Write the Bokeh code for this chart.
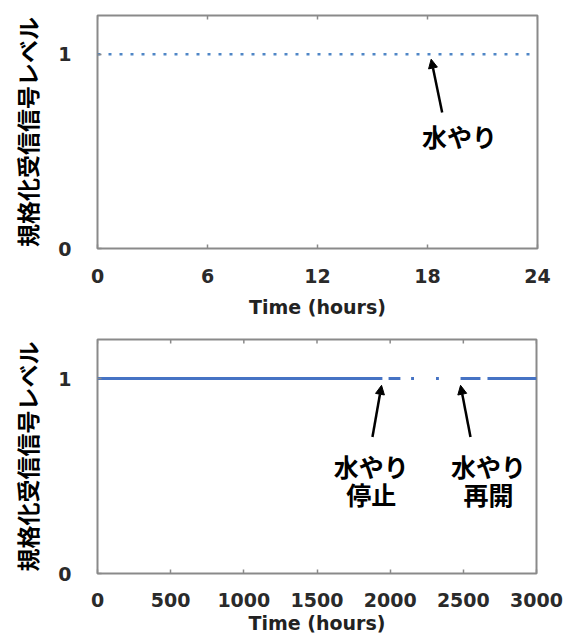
import math
from bokeh.plotting import figure
from bokeh.models import FixedTicker, Arrow, NormalHead, Range1d
from bokeh.layouts import column
from bokeh.core.properties import value
from bokeh.embed import file_html
from bokeh.resources import INLINE

nan = float("nan")

# ---------------- data ----------------
# top panel: 24 h watering test
day_ticks = [0, 6, 12, 18, 24]
day_t = [0, 24]
day_level = [1, 1]
day_water_t = [18.2]          # time of watering (h)
day_water_label = ["水やり"]

# bottom panel: long-term test (hours)
long_ticks = [0, 500, 1000, 1500, 2000, 2500, 3000]
long_t = [0, 1947, nan, 1989, 2070, nan, 2143, 2163, nan, 2313, 2333, nan,
          2481, 2617, nan, 2665, 3000]
long_level = [1, 1, nan, 1, 1, nan, 1, 1, nan, 1, 1, nan,
              1, 1, nan, 1, 1]
long_event_t = [1941, 2481]    # watering stopped / resumed (h)
long_event_line1 = ["水やり", "水やり"]
long_event_line2 = ["停止", "再開"]

level_ticks = [0, 1]
level_max = 1.2

Y_LABEL = "規格化受信信号レベル"
X_LABEL = "Time (hours)"
JP = "Noto Sans CJK JP"
NUM = "DejaVu Sans"
GRAY = "#8a8a8a"


def style(p, xticks, tick_standoff, label_standoff):
    p.grid.visible = False
    p.outline_line_color = GRAY
    p.outline_line_width = 2
    p.background_fill_color = "white"
    p.border_fill_color = "white"
    for ax in p.xaxis + p.yaxis:
        ax.axis_line_color = None
        ax.major_tick_line_color = GRAY
        ax.major_tick_line_width = 1.5
        ax.major_tick_in = 4
        ax.major_tick_out = 0
        ax.minor_tick_line_color = None
        ax.major_label_text_font = NUM
        ax.major_label_text_font_style = "bold"
        ax.major_label_text_font_size = "19px"
        ax.major_label_text_color = "#2a2a2a"
    p.xaxis.ticker = FixedTicker(ticks=xticks)
    p.yaxis.ticker = FixedTicker(ticks=level_ticks)
    p.xaxis.major_label_standoff = tick_standoff
    p.xaxis.axis_label = X_LABEL
    p.xaxis.axis_label_text_font = NUM
    p.xaxis.axis_label_text_font_style = "bold"
    p.xaxis.axis_label_text_font_size = "19px"
    p.xaxis.axis_label_text_color = "#222222"
    p.xaxis.axis_label_standoff = label_standoff
    p.yaxis.major_label_standoff = 26
    p.yaxis.axis_label = Y_LABEL
    p.yaxis.axis_label_text_font = JP
    p.yaxis.axis_label_text_font_style = "bold"
    p.yaxis.axis_label_text_font_size = "23px"
    p.yaxis.axis_label_text_color = "black"
    p.yaxis.axis_label_standoff = 11
    # inward ticks along the top edge of the box
    p.ray(x=xticks, y=[level_max] * len(xticks), length=4, length_units="screen",
          angle=-math.pi / 2, line_color=GRAY, line_width=1.5)


# ---------------- top figure ----------------
p1 = figure(frame_width=440, frame_height=233, min_border_left=96,
            min_border_right=30, min_border_top=15, min_border_bottom=72,
            x_range=Range1d(0, 24), y_range=Range1d(0, level_max),
            output_backend="svg", toolbar_location=None)
style(p1, day_ticks, 20, 10)
p1.line(day_t, day_level, line_color="#4f86c6", line_width=2.5, line_dash="3 8")

for t, lab in zip(day_water_t, day_water_label):
    p1.add_layout(Arrow(end=NormalHead(size=9, fill_color="black", line_color="black"),
                        x_start=t + 0.6, y_start=0.70, x_end=t, y_end=0.975,
                        line_width=2.5, line_color="black"))
    p1.text(x=[t + 1.55], y=[0.58], text=[lab], text_font=value(JP),
            text_font_style="bold", text_font_size="25px",
            text_align="center", text_baseline="middle", text_color="black")

# ---------------- bottom figure ----------------
p2 = figure(frame_width=439, frame_height=234, min_border_left=97,
            min_border_right=30, min_border_top=19, min_border_bottom=0,
            x_range=Range1d(0, 3000), y_range=Range1d(0, level_max),
            output_backend="svg", toolbar_location=None)
style(p2, long_ticks, 19, 2)
p2.line(long_t, long_level, line_color="#4673c4", line_width=3)

tail_dx = [-62, 68]
for t, dx, l1, l2 in zip(long_event_t, tail_dx, long_event_line1, long_event_line2):
    p2.add_layout(Arrow(end=NormalHead(size=9, fill_color="black", line_color="black"),
                        x_start=t + dx, y_start=0.70, x_end=t, y_end=0.965,
                        line_width=2.5, line_color="black"))
    cx = t + dx - 8 if dx < 0 else t + dx + 123
    p2.text(x=[cx, cx], y=[0.55, 0.41], text=[l1, l2], text_font=value(JP),
            text_font_style="bold", text_font_size="25px",
            text_align="center", text_baseline="middle", text_color="black")

layout = column(p1, p2, spacing=0)
open("out.html", "w").write(file_html(layout, INLINE))
